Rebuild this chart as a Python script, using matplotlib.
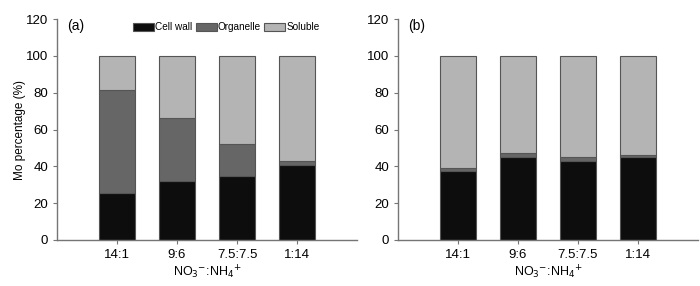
import matplotlib.pyplot as plt
import numpy as np

plt.rcParams['font.family'] = ['Liberation Sans', 'DejaVu Sans']

# ratios of NO3- : NH4+
ratios = ['14:1', '9:6', '7.5:7.5', '1:14']
series = ['Cell wall', 'Organelle', 'Soluble']

# panel (a), Mo percentage per fraction
cell_wall_a = [25.3, 31.9, 35.0, 40.8]
organelle_a = [56.3, 34.6, 17.1, 2.0]
soluble_a = [18.4, 33.5, 47.9, 57.2]

# panel (b)
cell_wall_b = [37.7, 44.8, 42.8, 44.8]
organelle_b = [1.5, 2.5, 2.5, 1.6]
soluble_b = [60.8, 52.7, 54.7, 53.6]

colors = ['#0d0d0d', '#666666', '#b4b4b4']
edge = '#555555'
axis_col = '#757575'

fig = plt.figure(figsize=(7, 2.86), dpi=100)
ax_a = fig.add_axes([57 / 700, 1 - 240 / 286, 300 / 700, 221 / 286])
ax_b = fig.add_axes([398 / 700, 1 - 240 / 286, 300 / 700, 221 / 286])

x = np.arange(len(ratios))

for ax, data, tag in [(ax_a, [cell_wall_a, organelle_a, soluble_a], '(a)'),
                      (ax_b, [cell_wall_b, organelle_b, soluble_b], '(b)')]:
    bottom = np.zeros(len(ratios))
    for vals, name, c in zip(data, series, colors):
        ax.bar(x, vals, 0.6, bottom=bottom, color=c, edgecolor=edge,
               linewidth=0.8, label=name)
        bottom += np.array(vals)
    ax.set_xlim(-1, 4)
    ax.set_ylim(0, 120)
    ax.set_yticks(range(0, 121, 20))
    ax.set_xticks(x)
    ax.set_xticklabels(ratios)
    for s in ['top', 'right']:
        ax.spines[s].set_visible(False)
    for s in ['left', 'bottom']:
        ax.spines[s].set_color(axis_col)
        ax.spines[s].set_linewidth(1.0)
    ax.tick_params(colors=axis_col, labelcolor='black', labelsize=9.5,
                   length=3, width=0.8)
    ax.set_xlabel('NO$_3$$^{-}$:NH$_4$$^{+}$', fontsize=9, labelpad=2)
    ax.text(0.035, 0.968, tag, transform=ax.transAxes, fontsize=10,
            va='center', ha='left')

ax_a.set_ylabel('Mo percentage (%)', fontsize=8.5, labelpad=0)

ax_a.legend(loc='center left', bbox_to_anchor=(0.24, 0.962), ncol=3,
            frameon=False, fontsize=7.2, handlelength=2.1, handleheight=0.8,
            handletextpad=0.1, columnspacing=0.35, borderaxespad=0)

fig.savefig('out.png', dpi=100)
